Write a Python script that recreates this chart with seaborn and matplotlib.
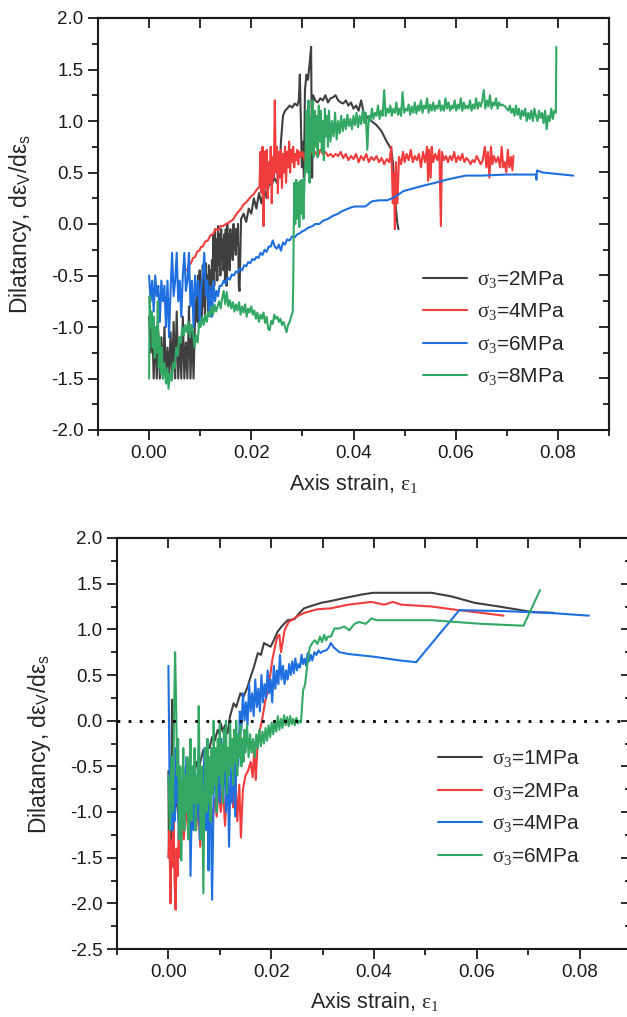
import matplotlib
matplotlib.use("Agg")
import matplotlib.pyplot as plt
from matplotlib.ticker import MultipleLocator, FixedLocator, FormatStrFormatter
import seaborn as sns

# ---------------- data (x = axis strain, y = dilatancy) ----------------
top_labels = [r"$\sigma_3$=2MPa", r"$\sigma_3$=4MPa", r"$\sigma_3$=6MPa", r"$\sigma_3$=8MPa"]
bottom_labels = [r"$\sigma_3$=1MPa", r"$\sigma_3$=2MPa", r"$\sigma_3$=4MPa", r"$\sigma_3$=6MPa"]

top_2mpa = [
    (0.0000,-0.90),(0.0003,-1.25),(0.0006,-0.95),(0.0009,-1.50),(0.0012,-1.00),(0.0015,-1.50),
    (0.0018,-1.05),(0.0021,-1.50),(0.0024,-1.10),(0.0027,-1.50),(0.0030,-1.00),(0.0033,-1.50),
    (0.0036,-1.20),(0.0039,-1.50),(0.0042,-1.05),(0.0045,-1.50),(0.0048,-0.95),(0.0051,-1.50),
    (0.0054,-0.85),(0.0057,-1.50),(0.0060,-1.10),(0.0063,-1.50),(0.0066,-0.90),(0.0069,-1.50),
    (0.0072,-1.15),(0.0075,-1.50),(0.0078,-0.80),(0.0081,-1.50),(0.0084,-1.00),(0.0087,-1.50),
    (0.0090,-0.90),(0.0093,-0.70),(0.00945,-0.95),(0.0096,-0.50),(0.00975,-1.00),(0.0099,-0.45),
    (0.01005,-0.85),(0.0102,-0.55),(0.01035,-0.95),(0.0105,-0.40),(0.01065,-0.80),(0.0108,-0.45),
    (0.01095,-0.90),(0.0111,-0.38),(0.01125,-0.70),(0.0114,-0.50),(0.01155,-0.85),(0.0117,-0.40),
    (0.01185,-0.65),(0.0120,-0.45),(0.01215,-0.75),(0.0123,-0.35),(0.01245,-0.55),(0.0126,-0.10),
    (0.01275,-0.60),(0.0129,-0.05),(0.01305,-0.45),(0.0132,-0.15),(0.01335,-0.55),(0.0135,-0.02),
    (0.01365,-0.40),(0.0138,-0.10),(0.01395,-0.50),(0.0141,-0.05),(0.01425,-0.35),(0.0144,-0.15),
    (0.01455,-0.45),(0.0147,-0.10),(0.01485,-0.55),(0.0150,-0.05),(0.01515,-0.60),(0.0153,0.00),
    (0.01545,-0.40),(0.0156,-0.10),(0.01575,-0.45),(0.0159,-0.05),(0.01605,-0.30),(0.0162,-0.10),
    (0.01635,-0.35),(0.0165,0.00),(0.01665,-0.25),(0.0168,-0.05),(0.01695,-0.30),(0.0171,-0.05),
    (0.01725,-0.20),(0.0174,0.00),(0.01755,-0.60),(0.0177,-0.65),
    (0.0180,0.05),(0.0185,0.10),(0.0190,0.02),(0.0195,0.15),(0.0200,0.10),(0.0205,0.25),
    (0.0210,0.15),(0.0215,0.30),(0.0220,0.20),(0.0225,0.35),(0.0230,0.25),(0.0235,0.40),
    (0.0240,0.38),(0.0245,0.45),(0.0250,0.40),(0.0255,0.50),(0.0258,0.80),(0.0262,1.05),
    (0.0266,1.10),(0.0270,1.12),(0.0275,1.15),(0.0280,1.13),(0.0285,1.17),(0.0290,1.15),
    (0.0293,1.20),(0.0295,1.45),(0.0297,1.00),(0.0299,0.55),(0.0301,0.80),(0.0303,0.45),
    (0.0305,1.30),(0.0308,1.45),(0.0311,1.40),(0.0314,1.55),(0.0317,1.72),(0.0319,0.45),
    (0.0321,1.25),(0.0325,1.20),(0.0330,1.18),(0.0335,1.22),(0.0340,1.20),(0.0345,1.25),
    (0.0350,1.18),(0.0355,1.22),(0.0360,1.23),(0.0365,1.25),(0.0370,1.20),(0.0375,1.18),
    (0.0380,1.17),(0.0385,1.20),(0.0390,1.15),(0.0395,1.18),(0.0400,1.12),(0.0405,1.15),
    (0.0410,1.10),(0.0415,1.20),(0.0420,1.08),(0.0425,1.05),(0.0430,1.02),(0.0435,1.00),
    (0.0440,0.98),(0.0445,0.96),(0.0450,0.93),(0.0455,0.90),(0.0460,0.85),(0.0465,0.80),
    (0.0470,0.76),(0.0474,0.72),(0.0477,0.60),(0.0480,0.35),(0.0483,0.15),(0.0486,0.00),
    (0.0488,-0.05),
]

top_4mpa = [
    (0.0074,-0.45),(0.0078,-0.40),(0.0082,-0.38),(0.0086,-0.33),(0.0090,-0.32),(0.0094,-0.27),
    (0.0098,-0.26),(0.0102,-0.22),(0.0105,-0.22),(0.0110,-0.17),(0.0115,-0.16),(0.0120,-0.11),
    (0.0125,-0.10),(0.0130,-0.05),(0.0135,-0.06),(0.0140,-0.02),(0.0145,-0.02),(0.0150,0.00),
    (0.0155,0.01),(0.0160,0.03),(0.0164,0.04),(0.0170,0.09),(0.0175,0.12),(0.0180,0.15),
    (0.0185,0.19),(0.0190,0.21),(0.0195,0.24),(0.0200,0.27),(0.0205,0.29),(0.0210,0.33),
    (0.0216,0.36),(0.0218,0.70),(0.0220,0.30),(0.0222,0.75),(0.0224,-0.02),(0.0226,0.70),
    (0.0228,0.35),(0.0230,0.72),(0.0232,0.25),(0.0234,0.60),(0.0236,0.40),(0.0238,0.75),
    (0.0240,0.20),(0.0242,0.65),(0.0244,0.45),(0.0246,1.20),(0.0248,0.50),(0.0250,0.75),
    (0.0252,0.30),(0.0254,0.70),(0.0256,0.45),(0.0258,0.72),(0.0260,0.35),(0.0262,0.68),
    (0.0264,0.50),(0.0266,0.75),(0.0268,0.40),(0.0270,0.70),(0.0272,0.55),(0.0274,0.80),
    (0.0276,0.50),(0.0278,0.72),(0.0280,0.60),(0.0282,0.75),(0.0284,0.55),(0.0286,0.68),
    (0.0288,0.62),(0.0290,0.72),(0.0292,0.58),(0.0294,0.70),(0.0296,0.65),(0.0300,0.70),
    (0.0304,0.62),(0.0308,0.75),(0.0312,0.65),(0.0316,0.72),(0.0320,0.68),(0.0325,0.70),
    (0.0330,0.65),(0.0335,0.72),(0.0340,0.68),(0.0345,0.70),(0.0350,0.66),(0.0355,0.68),
    (0.0360,0.65),(0.0365,0.68),(0.0370,0.66),(0.0375,0.70),(0.0380,0.64),(0.0385,0.68),
    (0.0390,0.62),(0.0395,0.66),(0.0400,0.63),(0.0405,0.68),(0.0410,0.60),(0.0415,0.66),
    (0.0420,0.62),(0.0425,0.68),(0.0430,0.60),(0.0435,0.65),(0.0440,0.62),(0.0445,0.66),
    (0.0450,0.60),(0.0455,0.64),(0.0460,0.58),(0.0465,0.63),(0.0470,0.60),(0.0474,0.75),
    (0.0477,0.20),(0.0479,0.50),(0.0481,-0.05),(0.0483,0.60),(0.0486,0.20),(0.0489,0.65),
    (0.0493,0.58),(0.0497,0.70),(0.0500,0.60),(0.0504,0.68),(0.0508,0.62),(0.0512,0.72),
    (0.0516,0.60),(0.0520,0.66),(0.0524,0.62),(0.0528,0.68),(0.0532,0.55),(0.0536,0.70),
    (0.0540,0.60),(0.0544,0.75),(0.0546,0.42),(0.0548,0.72),(0.0551,0.45),(0.0553,0.75),
    (0.0556,0.60),(0.0560,0.68),(0.0564,0.62),(0.0568,0.72),(0.0571,-0.02),(0.0573,0.70),
    (0.0577,0.62),(0.0581,0.66),(0.0585,0.60),(0.0589,0.66),(0.0593,0.62),(0.0597,0.70),
    (0.0601,0.60),(0.0605,0.66),(0.0609,0.62),(0.0613,0.68),(0.0617,0.60),(0.0621,0.64),
    (0.0625,0.62),(0.0629,0.58),(0.0633,0.62),(0.0637,0.60),(0.0641,0.66),(0.0645,0.62),
    (0.0649,0.58),(0.0653,0.62),(0.0657,0.75),(0.0660,0.55),(0.0663,0.70),(0.0666,0.45),
    (0.0669,0.75),(0.0672,0.58),(0.0675,0.66),(0.0679,0.60),(0.0683,0.65),(0.0687,0.55),
    (0.0690,0.75),(0.0693,0.55),(0.0696,0.60),(0.0699,0.50),(0.0702,0.72),(0.0705,0.55),
    (0.0708,0.65),(0.0711,0.52),(0.0713,0.66),
]

top_6mpa = [
    (0.0000,-0.50),(0.0003,-0.75),(0.0006,-0.55),(0.0009,-0.85),(0.0012,-0.50),(0.0015,-0.70),
    (0.0018,-0.60),(0.0021,-0.95),(0.0024,-0.55),(0.0027,-0.75),(0.0030,-0.60),(0.0033,-1.00),
    (0.0036,-0.55),(0.0039,-1.10),(0.0042,-0.65),(0.0045,-0.28),(0.0048,-0.70),(0.0051,-0.55),
    (0.0054,-0.28),(0.0057,-0.75),(0.0060,-0.55),(0.0063,-0.90),(0.0066,-0.50),(0.0069,-0.28),
    (0.0072,-0.65),(0.0075,-0.55),(0.0078,-0.28),(0.0081,-0.80),(0.0084,-0.55),(0.0087,-1.00),
    (0.0090,-0.50),(0.0093,-0.70),(0.0096,-0.55),(0.0099,-0.95),(0.0102,-0.60),(0.0105,-0.50),
    (0.0108,-0.28),(0.0111,-0.70),(0.0114,-0.55),(0.0117,-0.85),(0.0120,-0.60),(0.0123,-0.90),
    (0.0126,-0.55),(0.0129,-0.75),(0.0132,-0.65),(0.0135,-0.70),(0.0138,-0.60),(0.0142,-0.60),
    (0.0146,-0.55),(0.0150,-0.58),(0.0154,-0.52),(0.0158,-0.54),(0.0162,-0.49),(0.0166,-0.50),
    (0.0170,-0.46),(0.0174,-0.47),(0.0178,-0.43),(0.0182,-0.45),(0.0186,-0.40),(0.0190,-0.41),
    (0.0194,-0.37),(0.0198,-0.38),(0.0202,-0.34),(0.0206,-0.35),(0.0210,-0.32),(0.0214,-0.33),
    (0.0218,-0.28),(0.0222,-0.30),(0.0226,-0.25),(0.0230,-0.27),(0.0234,-0.22),(0.0238,-0.22),
    (0.0242,-0.16),(0.0246,-0.22),(0.0250,-0.24),(0.0254,-0.20),(0.0258,-0.26),(0.0262,-0.18),
    (0.0266,-0.20),(0.0270,-0.15),(0.0275,-0.16),(0.0280,-0.12),(0.0285,-0.13),(0.0290,-0.10),
    (0.0295,-0.09),(0.0300,-0.07),(0.0305,-0.06),(0.0310,-0.04),(0.0315,-0.03),(0.0320,-0.02),
    (0.0325,0.00),(0.0333,0.00),(0.0340,0.03),(0.0350,0.05),(0.0360,0.08),(0.0370,0.10),
    (0.0376,0.12),(0.0385,0.14),(0.0395,0.16),(0.0402,0.17),(0.0415,0.17),(0.0423,0.17),
    (0.0436,0.22),(0.0450,0.23),(0.0466,0.23),(0.0480,0.26),(0.0498,0.32),(0.0520,0.35),
    (0.0543,0.38),(0.0560,0.40),(0.0582,0.43),(0.0600,0.45),(0.0620,0.47),(0.0650,0.47),
    (0.0700,0.48),(0.0757,0.48),(0.0758,0.43),(0.0759,0.52),(0.0770,0.50),(0.0790,0.49),
    (0.0810,0.48),(0.0830,0.47),
]

top_8mpa = [
    (0.0000,-1.50),(0.0001,-0.70),(0.0003,-1.00),(0.0005,-0.85),(0.0007,-1.20),(0.0009,-0.90),
    (0.0011,-1.30),(0.0013,-1.00),(0.0015,-1.25),(0.0017,-0.75),(0.0019,-1.40),(0.0021,-1.10),
    (0.0023,-1.45),(0.0025,-1.20),(0.0027,-1.50),(0.0030,-1.35),(0.0033,-1.55),(0.0036,-1.40),
    (0.0038,-1.60),(0.0041,-1.45),(0.0044,-1.52),(0.0047,-1.35),(0.0050,-1.40),(0.0053,-1.20),
    (0.0056,-1.28),(0.0059,-1.10),(0.0062,-1.15),(0.0065,-1.00),(0.0068,-1.08),(0.0071,-0.98),
    (0.0074,-1.05),(0.0077,-0.95),(0.0080,-1.10),(0.0083,-0.98),(0.0086,-1.05),(0.0089,-1.20),
    (0.0092,-1.08),(0.0095,-1.15),(0.0098,-0.95),(0.0101,-1.00),(0.0104,-0.90),(0.0107,-0.98),
    (0.0110,-0.88),(0.0113,-0.95),(0.0116,-0.85),(0.0119,-0.90),(0.0122,-0.80),(0.0125,-0.88),
    (0.0128,-0.78),(0.0131,-0.85),(0.0134,-0.80),(0.0137,-0.75),(0.0140,-0.82),(0.0143,-0.72),
    (0.0146,-0.65),(0.0149,-0.78),(0.0152,-0.66),(0.0155,-0.80),(0.0158,-0.74),(0.0161,-0.82),
    (0.0164,-0.76),(0.0167,-0.85),(0.0170,-0.78),(0.0173,-0.84),(0.0176,-0.76),(0.0179,-0.88),
    (0.0182,-0.80),(0.0185,-0.86),(0.0188,-0.78),(0.0191,-0.90),(0.0194,-0.82),(0.0197,-0.86),
    (0.0200,-0.80),(0.0203,-0.88),(0.0206,-0.84),(0.0209,-0.92),(0.0212,-0.86),(0.0215,-0.95),
    (0.0218,-0.88),(0.0221,-0.92),(0.0224,-0.86),(0.0227,-0.96),(0.0230,-0.90),(0.0233,-1.02),
    (0.0236,-1.03),(0.0239,-0.94),(0.0242,-0.97),(0.0245,-0.88),(0.0248,-0.92),(0.0251,-0.90),
    (0.0254,-0.95),(0.0257,-0.92),(0.0260,-0.98),(0.0263,-0.95),(0.0266,-1.00),(0.0269,-1.05),
    (0.0272,-0.98),(0.0275,-0.95),(0.0278,-0.90),(0.0281,-0.85),(0.0282,-0.60),(0.0283,-0.05),
    (0.0284,0.40),(0.0286,0.00),(0.0288,0.43),(0.0290,0.05),(0.0292,0.40),(0.0294,-0.03),
    (0.0296,0.42),(0.0298,0.10),(0.0300,0.43),(0.0302,0.05),(0.0304,0.40),(0.0306,0.60),
    (0.0308,1.10),(0.0310,0.50),(0.0312,1.20),(0.0314,0.40),(0.0316,1.05),(0.0318,0.70),
    (0.0320,1.20),(0.0322,0.65),(0.0324,1.10),(0.0326,0.75),(0.0328,1.05),(0.0330,0.65),
    (0.0332,1.15),(0.0334,0.80),(0.0336,1.10),(0.0338,0.70),(0.0340,1.00),(0.0342,0.62),
    (0.0344,1.12),(0.0346,0.85),(0.0348,1.05),(0.0350,0.75),(0.0352,1.10),(0.0355,0.80),
    (0.0358,1.00),(0.0361,0.85),(0.0364,1.08),(0.0367,0.82),(0.0370,1.00),(0.0373,0.88),
    (0.0376,1.05),(0.0379,0.90),(0.0382,1.02),(0.0385,0.92),(0.0388,1.06),(0.0391,0.95),
    (0.0394,1.02),(0.0397,0.92),(0.0400,1.05),(0.0403,0.96),(0.0406,1.08),(0.0409,0.94),
    (0.0412,1.05),(0.0415,0.97),(0.0418,1.10),(0.0421,0.98),(0.0424,1.08),(0.0427,0.72),
    (0.0430,1.05),(0.0433,1.00),(0.0436,1.12),(0.0439,1.02),(0.0442,1.08),(0.0445,1.05),
    (0.0448,1.15),(0.0451,1.02),(0.0454,1.10),(0.0457,1.05),(0.0460,1.30),(0.0463,1.05),
    (0.0466,1.12),(0.0469,1.08),(0.0472,1.15),(0.0475,1.05),(0.0478,1.12),(0.0481,1.08),
    (0.0484,1.18),(0.0487,1.06),(0.0490,1.12),(0.0493,1.05),(0.0496,1.28),(0.0499,1.08),
    (0.0502,1.12),(0.0505,1.10),(0.0508,1.16),(0.0511,1.06),(0.0514,1.14),(0.0517,1.08),
    (0.0520,1.18),(0.0523,1.07),(0.0526,1.15),(0.0529,1.10),(0.0532,1.20),(0.0535,1.08),
    (0.0538,1.15),(0.0541,1.12),(0.0544,1.22),(0.0547,1.08),(0.0550,1.16),(0.0553,1.10),
    (0.0556,1.18),(0.0559,1.10),(0.0562,1.15),(0.0565,1.12),(0.0568,1.20),(0.0571,1.10),
    (0.0574,1.15),(0.0577,1.10),(0.0580,1.22),(0.0583,1.12),(0.0586,1.18),(0.0589,1.10),
    (0.0592,1.15),(0.0595,1.12),(0.0598,1.20),(0.0601,1.10),(0.0604,1.16),(0.0607,1.12),
    (0.0610,1.22),(0.0613,1.10),(0.0616,1.18),(0.0619,1.12),(0.0622,1.15),(0.0625,1.12),
    (0.0628,1.20),(0.0631,1.10),(0.0634,1.16),(0.0637,1.12),(0.0640,1.22),(0.0643,1.12),
    (0.0646,1.18),(0.0649,1.14),(0.0652,1.20),(0.0655,1.30),(0.0658,1.12),(0.0661,1.20),
    (0.0664,1.14),(0.0667,1.25),(0.0670,1.12),(0.0673,1.18),(0.0676,1.15),(0.0679,1.22),
    (0.0682,1.12),(0.0685,1.18),(0.0688,1.15),(0.0691,1.16),(0.0694,1.15),(0.0697,1.14),
    (0.0700,1.12),(0.0703,1.10),(0.0706,1.15),(0.0709,1.08),(0.0712,1.12),(0.0715,1.05),
    (0.0718,1.15),(0.0721,1.06),(0.0724,1.12),(0.0727,1.02),(0.0730,1.10),(0.0733,1.05),
    (0.0736,1.12),(0.0739,1.00),(0.0742,1.08),(0.0745,1.02),(0.0748,1.10),(0.0751,1.00),
    (0.0754,1.12),(0.0757,1.05),(0.0760,1.00),(0.0763,1.10),(0.0766,1.03),(0.0769,1.08),
    (0.0772,0.98),(0.0775,1.10),(0.0778,0.92),(0.0781,1.05),(0.0784,1.00),(0.0787,1.12),
    (0.0790,1.02),(0.0793,1.10),(0.0796,1.08),(0.0797,1.72),
]

bot_1mpa = [
    (0.0000,-0.55),(0.0001,-1.50),(0.0003,-1.00),(0.0005,-1.45),(0.0007,0.23),(0.0009,-0.60),
    (0.0012,-1.00),(0.0015,-0.80),(0.0020,-1.10),(0.0025,-0.70),(0.0030,-0.90),(0.0035,-0.60),
    (0.0040,-0.75),(0.0045,-0.55),(0.0050,-0.60),(0.0055,-0.45),(0.0060,-0.50),(0.0068,-0.32),
    (0.0072,-0.38),(0.0076,-0.25),(0.0080,-0.30),(0.0085,-0.18),(0.0090,-0.22),(0.0096,-0.10),
    (0.0100,-0.15),(0.0102,-0.03),(0.0106,-0.12),(0.0110,-0.05),(0.0115,-0.14),(0.0120,0.05),
    (0.0127,0.19),(0.0132,0.15),(0.0140,0.30),(0.0146,0.26),(0.0154,0.37),(0.0160,0.48),
    (0.0167,0.60),(0.0174,0.74),(0.0180,0.72),(0.0186,0.85),(0.0192,0.83),(0.0199,0.81),
    (0.0205,0.88),(0.0212,0.97),(0.0220,1.03),(0.0232,1.10),(0.0245,1.11),(0.0255,1.18),
    (0.0264,1.23),(0.0280,1.26),(0.0297,1.29),(0.0316,1.31),(0.0340,1.34),(0.0375,1.38),
    (0.0398,1.40),(0.0450,1.40),(0.0512,1.40),(0.0551,1.36),(0.0596,1.29),(0.0643,1.25),
    (0.0707,1.19),(0.0750,1.18),
]

bot_2mpa = [
    (0.0000,-1.50),(0.0002,-1.20),(0.0004,-2.00),(0.0006,-1.30),(0.0008,-1.60),(0.0010,-1.00),
    (0.0012,-1.75),(0.0014,-2.07),(0.0016,-1.40),(0.0018,-1.70),(0.0020,-1.20),(0.0023,-1.50),
    (0.0026,-1.10),(0.0030,-1.30),(0.0034,-0.90),(0.0038,-1.20),(0.0042,-0.80),(0.0046,-1.10),
    (0.0050,-0.85),(0.0054,-1.20),(0.0058,-0.90),(0.0062,-1.38),(0.0066,-0.95),(0.0070,-1.15),
    (0.0074,-0.80),(0.0078,-1.25),(0.0082,-0.90),(0.0086,-1.10),(0.0090,-0.85),(0.0094,-1.05),
    (0.0098,-0.75),(0.0102,-1.00),(0.0106,-0.70),(0.0110,-1.15),(0.0114,-0.80),(0.0118,-1.00),
    (0.0122,-0.65),(0.0126,-0.95),(0.0130,-0.60),(0.0134,-1.10),(0.0138,-0.70),(0.0141,-1.28),
    (0.0145,-0.75),(0.0150,-0.60),(0.0155,-0.55),(0.0160,-0.45),(0.0164,-0.62),(0.0167,-0.30),
    (0.0170,-0.65),(0.0174,-0.20),(0.0178,-0.10),(0.0182,0.00),(0.0188,0.20),(0.0195,0.37),
    (0.0202,0.66),(0.0207,0.80),(0.0212,0.92),(0.0216,0.94),(0.0219,0.75),(0.0222,0.85),
    (0.0226,0.99),(0.0234,1.08),(0.0250,1.14),(0.0264,1.18),(0.0290,1.22),(0.0316,1.23),
    (0.0350,1.27),(0.0395,1.30),(0.0420,1.27),(0.0437,1.30),(0.0453,1.27),(0.0512,1.25),
    (0.0564,1.21),(0.0609,1.18),(0.0652,1.15),
]

bot_4mpa = [
    (0.0000,0.60),(0.0002,-0.50),(0.0004,-1.00),(0.0006,-0.40),(0.0008,-1.20),(0.0010,-0.60),
    (0.0012,-1.10),(0.0014,-0.30),(0.0016,-0.90),(0.0018,-0.50),(0.0020,-1.30),(0.0023,-0.70),
    (0.0026,-1.10),(0.0029,-0.50),(0.0032,-0.90),(0.0035,-0.40),(0.0038,-1.00),(0.0041,-0.60),
    (0.0043,-1.70),(0.0046,-0.80),(0.0049,-1.20),(0.0052,-0.55),(0.0055,-1.10),(0.0058,-0.40),
    (0.0061,-1.30),(0.0064,-0.60),(0.0067,-1.00),(0.0070,-0.30),(0.0073,-1.20),(0.0076,-0.50),
    (0.0078,-1.64),(0.0080,-0.70),(0.0083,-1.20),(0.0085,-1.96),(0.0088,-0.80),(0.0091,-0.40),
    (0.0094,-1.00),(0.0097,-0.50),(0.0100,-0.90),(0.0103,-0.20),(0.0106,-0.80),(0.0109,-0.30),
    (0.0112,-1.00),(0.0115,-0.40),(0.0118,-1.38),(0.0121,-0.50),(0.0124,-0.90),(0.0127,-0.30),
    (0.0130,-1.05),(0.0133,-0.20),(0.0136,-0.50),(0.0139,0.10),(0.0142,-0.10),(0.0145,0.30),
    (0.0148,0.00),(0.0151,0.20),(0.0154,-0.05),(0.0157,0.40),(0.0160,0.10),(0.0163,0.30),
    (0.0166,0.05),(0.0169,0.45),(0.0172,0.15),(0.0175,0.35),(0.0178,0.10),(0.0181,0.50),
    (0.0184,0.20),(0.0187,0.40),(0.0190,0.25),(0.0193,0.55),(0.0196,0.30),(0.0199,0.45),
    (0.0202,0.20),(0.0205,0.60),(0.0208,0.35),(0.0211,0.55),(0.0214,0.40),(0.0217,0.72),
    (0.0220,0.45),(0.0223,0.60),(0.0226,0.40),(0.0229,0.55),(0.0232,0.45),(0.0235,0.62),
    (0.0238,0.50),(0.0241,0.65),(0.0244,0.52),(0.0247,0.68),(0.0250,0.55),(0.0253,0.62),
    (0.0256,0.58),(0.0259,0.72),(0.0262,0.62),(0.0265,0.68),(0.0268,0.60),(0.0271,0.74),
    (0.0274,0.65),(0.0277,0.72),(0.0280,0.66),(0.0284,0.75),(0.0288,0.72),(0.0292,0.77),
    (0.0296,0.74),(0.0300,0.76),(0.0307,0.77),(0.0312,0.80),(0.0316,0.85),(0.0322,0.80),
    (0.0333,0.75),(0.0350,0.73),(0.0400,0.70),(0.0450,0.66),(0.0482,0.64),(0.0566,1.21),
    (0.0650,1.20),(0.0740,1.18),(0.0818,1.15),
]

bot_6mpa = [
    (0.0000,-0.60),(0.0003,-1.20),(0.0006,-0.40),(0.0009,-1.00),(0.0011,0.10),(0.0013,0.75),
    (0.0015,0.20),(0.0017,-0.60),(0.0019,-0.20),(0.0021,-1.30),(0.0023,-0.50),(0.0025,-1.53),
    (0.0027,-0.80),(0.0029,-0.30),(0.0031,-1.20),(0.0033,-0.60),(0.0035,-1.00),(0.0037,-0.40),
    (0.0039,-1.30),(0.0041,-0.70),(0.0043,-0.20),(0.0045,-1.10),(0.0047,-0.50),(0.0049,-0.90),
    (0.0051,-0.30),(0.0053,-1.20),(0.0055,-0.60),(0.0057,-0.90),(0.0059,0.16),(0.0061,-0.70),
    (0.0063,-1.30),(0.0065,-0.50),(0.0068,-1.89),(0.0070,-0.80),(0.0072,-0.30),(0.0074,-1.00),
    (0.0076,-0.20),(0.0078,-0.90),(0.0080,-0.40),(0.0082,-1.10),(0.0084,-0.30),(0.0086,-0.80),
    (0.0088,0.00),(0.0090,-0.70),(0.0092,-0.30),(0.0094,-1.00),(0.0096,-0.20),(0.0098,-0.60),
    (0.0100,0.00),(0.0102,-0.70),(0.0104,-0.25),(0.0106,-0.90),(0.0108,-0.10),(0.0110,-0.55),
    (0.0112,0.00),(0.0114,-0.80),(0.0116,-0.30),(0.0118,-0.60),(0.0120,0.00),(0.0122,-0.50),
    (0.0124,-0.20),(0.0126,-0.70),(0.0128,-0.10),(0.0130,-0.45),(0.0132,0.00),(0.0134,-0.60),
    (0.0136,-0.15),(0.0138,-0.40),(0.0140,-0.05),(0.0142,-0.50),(0.0144,-0.20),(0.0146,-0.45),
    (0.0148,-0.10),(0.0150,-0.35),(0.0153,-0.05),(0.0156,-0.40),(0.0159,-0.15),(0.0162,-0.35),
    (0.0165,-0.20),(0.0168,-0.40),(0.0171,-0.15),(0.0174,-0.30),(0.0177,-0.10),(0.0180,-0.28),
    (0.0183,-0.12),(0.0186,-0.25),(0.0189,-0.08),(0.0192,-0.22),(0.0195,-0.05),(0.0198,-0.18),
    (0.0201,-0.02),(0.0204,-0.15),(0.0207,0.00),(0.0210,-0.12),(0.0213,0.05),(0.0216,-0.10),
    (0.0219,0.02),(0.0222,-0.08),(0.0225,0.06),(0.0228,-0.05),(0.0231,0.04),(0.0234,-0.06),
    (0.0237,0.05),(0.0240,-0.04),(0.0243,0.02),(0.0246,-0.05),(0.0249,0.03),(0.0252,-0.03),
    (0.0255,0.00),(0.0258,-0.02),(0.0262,0.33),(0.0266,0.40),(0.0270,0.60),(0.0275,0.80),
    (0.0280,0.85),(0.0285,0.88),(0.0290,0.84),(0.0295,0.92),(0.0299,0.86),(0.0303,0.94),
    (0.0307,0.88),(0.0310,0.92),(0.0316,0.92),(0.0323,1.01),(0.0333,1.01),(0.0342,1.03),
    (0.0352,0.99),(0.0362,1.06),(0.0371,1.08),(0.0384,1.06),(0.0395,1.12),(0.0405,1.10),
    (0.0453,1.10),(0.0512,1.10),(0.0609,1.06),(0.0691,1.04),(0.0723,1.43),
]

top_series = [top_2mpa, top_4mpa, top_6mpa, top_8mpa]
bottom_series = [bot_1mpa, bot_2mpa, bot_4mpa, bot_6mpa]
x_ticks = [0.00, 0.02, 0.04, 0.06, 0.08]

# ---------------- style ----------------
sns.set_style("ticks")
plt.rcParams['font.family'] = ['Liberation Sans', 'DejaVu Sans']
plt.rcParams['mathtext.fontset'] = 'custom'
plt.rcParams['mathtext.rm'] = 'Liberation Serif'
plt.rcParams['mathtext.it'] = 'Liberation Serif'
plt.rcParams['mathtext.bf'] = 'Liberation Serif:bold'
plt.rcParams['axes.unicode_minus'] = False

COLORS = ['#3f3f3f', '#f03c3c', '#1f6fe0', '#33a865']
SPINE = '#1a1a1a'

fig = plt.figure(figsize=(6.27, 10.17), dpi=100)
ax1 = fig.add_axes([98 / 627, 1 - 430 / 1017, 511 / 627, 412 / 1017])
ax2 = fig.add_axes([117 / 627, 1 - 949 / 1017, 514 / 627, 411 / 1017])


def draw(ax, series, labels):
    for pts, lab, col in zip(series, labels, COLORS):
        xs = [p[0] for p in pts]
        ys = [p[1] for p in pts]
        sns.lineplot(x=xs, y=ys, ax=ax, color=col, lw=1.5, sort=False,
                     estimator=None, label=lab)


def style(ax, ylo, yhi):
    ax.set_xlim(-0.01, 0.09)
    ax.set_ylim(ylo, yhi)
    ax.xaxis.set_major_locator(FixedLocator(x_ticks))
    ax.xaxis.set_minor_locator(MultipleLocator(0.01))
    ax.yaxis.set_major_locator(MultipleLocator(0.5))
    ax.yaxis.set_minor_locator(MultipleLocator(0.25))
    ax.xaxis.set_major_formatter(FormatStrFormatter('%.2f'))
    ax.yaxis.set_major_formatter(FormatStrFormatter('%.1f'))
    ax.tick_params(which='major', direction='out', length=7, width=1.3,
                   labelsize=13.5, pad=3.5, colors=SPINE, top=False, right=False)
    ax.tick_params(which='minor', direction='out', length=4, width=1.3,
                   colors=SPINE, top=False, right=False)
    for s in ax.spines.values():
        s.set_visible(True)
        s.set_linewidth(1.5)
        s.set_color(SPINE)
    sx = ax.secondary_xaxis('top')
    sx.xaxis.set_major_locator(MultipleLocator(0.01))
    sx.tick_params(direction='in', length=7, width=1.3, labeltop=False, colors=SPINE)
    sx.spines['top'].set_linewidth(1.5)
    sy = ax.secondary_yaxis('right')
    sy.yaxis.set_major_locator(MultipleLocator(0.5))
    sy.yaxis.set_minor_locator(MultipleLocator(0.25))
    sy.tick_params(which='major', direction='in', length=7, width=1.3, labelright=False, colors=SPINE)
    sy.tick_params(which='minor', direction='in', length=4, width=1.3, colors=SPINE)
    sy.spines['right'].set_linewidth(1.5)
    ax.set_xlabel(r"Axis strain, $\varepsilon_1$", fontsize=15.5)
    ax.set_ylabel(r"Dilatancy, d$\mathregular{\varepsilon_V}$/d$\mathregular{\varepsilon_s}$", fontsize=16.5)


LEG = dict(loc='upper left', frameon=False, fontsize=15, handlelength=2.1,
           handletextpad=0.5, labelspacing=0.55, borderpad=0, borderaxespad=0)

draw(ax1, top_series, top_labels)
style(ax1, -2.0, 2.0)
ax1.xaxis.set_label_coords(0.5, -0.102)
ax1.yaxis.set_label_coords(-0.125, 0.5)
ax1.legend(bbox_to_anchor=(0.636, 0.391), **LEG)

draw(ax2, bottom_series, bottom_labels)
ax2.axhline(0, color='black', lw=2, ls=(0, (1, 3)), zorder=5)
style(ax2, -2.5, 2.0)
ax2.xaxis.set_label_coords(0.5, -0.1)
ax2.yaxis.set_label_coords(-0.125, 0.5)
ax2.legend(bbox_to_anchor=(0.625, 0.488), **LEG)

fig.savefig("out.png", dpi=100)
